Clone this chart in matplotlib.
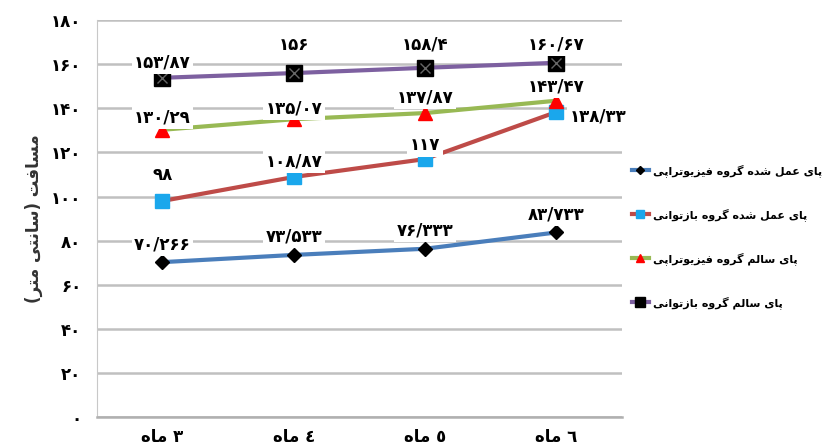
import matplotlib.pyplot as plt
import numpy as np

# Persian letter shaping: (isolated, final, initial, medial)
FORMS = {
    'ا': ('\uFE8D', '\uFE8E', None, None),
    'ب': ('\uFE8F', '\uFE90', '\uFE91', '\uFE92'),
    'پ': ('\uFB56', '\uFB57', '\uFB58', '\uFB59'),
    'ت': ('\uFE95', '\uFE96', '\uFE97', '\uFE98'),
    'د': ('\uFEA9', '\uFEAA', None, None),
    'ر': ('\uFEAD', '\uFEAE', None, None),
    'ز': ('\uFEAF', '\uFEB0', None, None),
    'س': ('\uFEB1', '\uFEB2', '\uFEB3', '\uFEB4'),
    'ش': ('\uFEB5', '\uFEB6', '\uFEB7', '\uFEB8'),
    'ع': ('\uFEC9', '\uFECA', '\uFECB', '\uFECC'),
    'ف': ('\uFED1', '\uFED2', '\uFED3', '\uFED4'),
    'گ': ('\uFB92', '\uFB93', '\uFB94', '\uFB95'),
    'ل': ('\uFEDD', '\uFEDE', '\uFEDF', '\uFEE0'),
    'م': ('\uFEE1', '\uFEE2', '\uFEE3', '\uFEE4'),
    'ن': ('\uFEE5', '\uFEE6', '\uFEE7', '\uFEE8'),
    'ه': ('\uFEE9', '\uFEEA', '\uFEEB', '\uFEEC'),
    'و': ('\uFEED', '\uFEEE', None, None),
    'ی': ('\uFBFC', '\uFBFD', '\uFBFE', '\uFBFF'),
}


def fa(text):
    # shape Persian letters and put them in visual (left-to-right) order
    out = []
    for i, ch in enumerate(text):
        if ch not in FORMS:
            out.append(ch)
            continue
        prev = text[i - 1] if i > 0 else ''
        nxt = text[i + 1] if i + 1 < len(text) else ''
        jp = prev in FORMS and FORMS[prev][2] is not None
        jn = FORMS[ch][2] is not None and nxt in FORMS
        iso, fin, ini, med = FORMS[ch]
        if jp and jn:
            out.append(med)
        elif jp:
            out.append(fin)
        elif jn:
            out.append(ini)
        else:
            out.append(iso)
    return ''.join(reversed(out))


def fa_num(v):
    s = f'{v:g}'.replace('.', '/')
    return s.translate(str.maketrans('0123456789', '۰۱۲۳۴۵۶۷۸۹'))


months = ['۳', '٤', '٥', '٦']
series_names = ['پای عمل شده گروه فیزیوتراپی',
                'پای عمل شده گروه بازتوانی',
                'پای سالم گروه فیزیوتراپی',
                'پای سالم گروه بازتوانی']
op_physio = [70.266, 73.533, 76.333, 83.733]
op_rehab = [98, 108.87, 117, 138.33]
healthy_physio = [130.29, 135.07, 137.87, 143.47]
healthy_rehab = [153.87, 156, 158.4, 160.67]

plt.rcParams['font.family'] = 'DejaVu Sans'
fig = plt.figure(figsize=(8.27, 4.48), dpi=100)
ax = fig.add_axes([0.117, 0.069, 0.635, 0.886])
x = np.arange(len(months))

styles = [
    dict(color='#4a7ebb', marker='D', mfc='black', mec='black', ms=7),
    dict(color='#be4b48', marker='s', mfc='#1aa7ec', mec='#1aa7ec', ms=10),
    dict(color='#98b954', marker='^', mfc='#ff0000', mec='#ff0000', ms=10),
    dict(color='#7d60a0', marker='s', mfc='black', mec='black', ms=11),
]
data = [op_physio, op_rehab, healthy_physio, healthy_rehab]
for vals, st, name in zip(data, styles, series_names):
    ax.plot(x, vals, lw=3, label=fa(name), zorder=3, **st)
ax.plot(x, healthy_rehab, ls='none', marker='x', color='#666666', ms=7, mew=1, zorder=4)

# value labels, offsets in points (dx, dy)
offsets = [
    [(0, 13), (0, 13), (0, 13), (0, 13)],
    [(0, 19), (0, 11), (0, 10), (30, -3)],
    [(0, 9), (0, 8), (0, 11), (0, 10)],
    [(0, 11), (0, 20), (0, 17), (0, 13)],
]
for vals, offs in zip(data, offsets):
    for xi, v, (dx, dy) in zip(x, vals, offs):
        ax.annotate(fa_num(v), (xi, v), xytext=(dx, dy), textcoords='offset points',
                    ha='center', va='center', fontsize=12, fontweight='bold', zorder=5,
                    bbox=dict(boxstyle='square,pad=0.15', fc='white', ec='none'))

ax.set_xlim(-0.5, 3.5)
ax.set_ylim(0, 180)
yt = np.arange(0, 181, 20)
ax.set_yticks(yt)
ax.set_yticklabels([fa_num(t) for t in yt], fontsize=12, fontweight='bold')
ax.set_xticks(x)
ax.set_xticklabels([fa('ماه') + ' ' + m for m in months], fontsize=12, fontweight='bold')
ax.tick_params(axis='y', length=0, pad=11)
ax.tick_params(axis='x', length=0, pad=8)
ax.grid(axis='y', color='#c0c0c0', lw=1.8)
ax.set_axisbelow(True)
for s in ['top', 'right']:
    ax.spines[s].set_visible(False)
ax.spines['left'].set_color('#c8c8c8')
ax.spines['bottom'].set_color('#b0b0b0')
ax.spines['bottom'].set_linewidth(1.8)

ax.set_ylabel('(' + fa('سانتی متر') + ') ' + fa('مسافت'), fontsize=12, fontweight='bold',
              color='#333333', labelpad=6)

fig.legend(loc='center left', bbox_to_anchor=(0.752, 0.472), frameon=False,
           handlelength=1.5, handletextpad=0.4, labelspacing=2.8, markerscale=0.6,
           prop=dict(size=8, weight='bold'))

fig.savefig('out.png', dpi=100)
